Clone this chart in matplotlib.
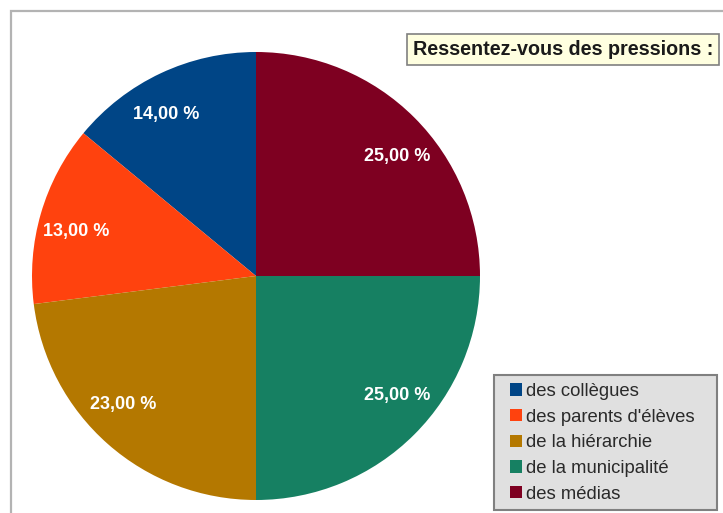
import matplotlib
matplotlib.use("Agg")
import matplotlib.pyplot as plt
import numpy as np
from matplotlib.patches import Rectangle

plt.rcParams['font.family'] = ['Liberation Sans', 'DejaVu Sans']

categories = ["des collègues", "des parents d'élèves", "de la hiérarchie",
              "de la municipalité", "des médias"]
values = [14, 13, 23, 25, 25]
colors = ["#004586", "#ff420e", "#b47800", "#168062", "#7e0021"]
title = "Ressentez-vous des pressions :"

W, H = 723, 513
fig = plt.figure(figsize=(W / 100, H / 100), dpi=100)

# outer frame of the chart (cropped at right and bottom)
fig.patches.append(Rectangle((10.5 / W, -0.1), 1.2, (H - 10.5) / H + 0.1,
                             transform=fig.transFigure, fill=False,
                             edgecolor="#b3b3b3", linewidth=1.6))

# pie: centre (256, 276) px, radius 224 px
cx, cy, r = 256, H - 276, 224
ax = fig.add_axes([(cx - r) / W, (cy - r) / H, 2 * r / W, 2 * r / H])
wedges, texts, autotexts = ax.pie(values, colors=colors, startangle=90,
                                  counterclock=True, radius=1,
                                  autopct=lambda p: f"{p:.2f} %".replace(".", ","),
                                  pctdistance=0.83,
                                  textprops=dict(color="white", fontweight="bold",
                                                 fontsize=13))
# labels are pulled toward the horizontal axis (wide text boxes)
for w, t in zip(wedges, autotexts):
    a = np.deg2rad((w.theta1 + w.theta2) / 2)
    a2 = np.arctan2(0.85 * np.sin(a), np.cos(a))
    t.set_position((0.826 * np.cos(a2), 0.826 * np.sin(a2)))
ax.set_xlim(-1, 1)
ax.set_ylim(-1, 1)
ax.axis("off")

fig.text(563 / W, 1 - 49.5 / H, title, ha="center", va="center",
         fontsize=14.2, fontweight="bold", color="#1a1a1a",
         bbox=dict(boxstyle="square,pad=0.3", facecolor="#ffffe0",
                   edgecolor="#808080", linewidth=1.2))

# legend frame
fig.patches.append(Rectangle((494 / W, 1 - 510 / H), 223 / W, 135 / H,
                             transform=fig.transFigure, facecolor="#e0e0e0",
                             edgecolor="#808080", linewidth=1.5, zorder=1))
leg = fig.legend(wedges, categories, loc="upper left",
                 bbox_to_anchor=(510 / W, 1 - 383 / H), frameon=False,
                 fontsize=13.3, handlelength=0.66, handleheight=0.66,
                 handletextpad=0.22, labelspacing=0.47,
                 borderpad=0, borderaxespad=0)
leg.set_zorder(2)
for t in leg.get_texts():
    t.set_color("#2a2a2a")

fig.savefig("out.png", dpi=100)
